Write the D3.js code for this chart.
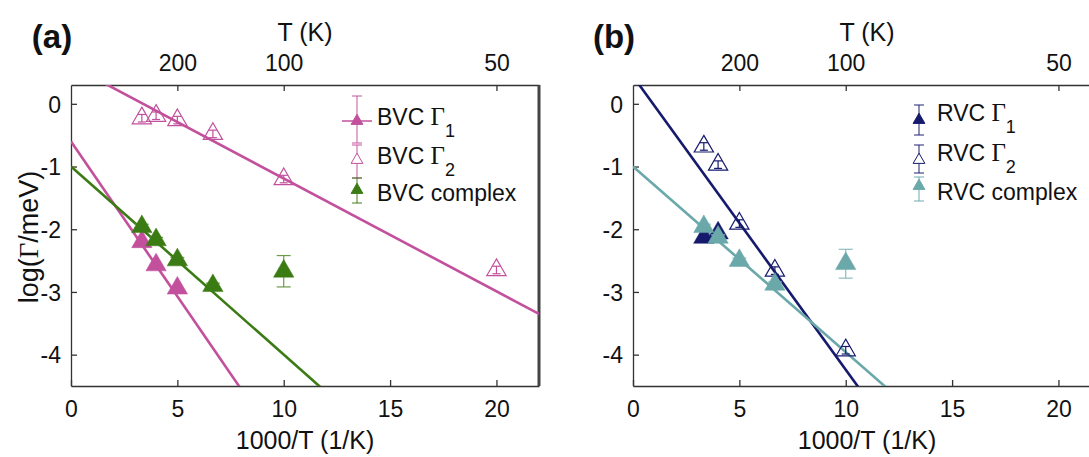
<!DOCTYPE html>
<html>
<head>
<meta charset="utf-8">
<script src="https://cdn.jsdelivr.net/npm/d3@7"></script>
<style>
  body { margin: 0; background: #fff; }
  svg { display: block; font-family: "Liberation Sans", Arial, sans-serif; }
</style>
</head>
<body>
<script>
// axis ticks
var xTicks = [0, 5, 10, 15, 20];
var yTicks = [0, -1, -2, -3, -4];
var tempTicks = [200, 100, 50]; // T (K) on the top axis

// panel (a) BVC data, x = 1000/T
var bvcG1X = [3.33, 4, 5];
var bvcG1Y = [-2.20, -2.57, -2.94];
var bvcG2X = [3.33, 4, 5, 6.67, 10, 20];
var bvcG2Y = [-0.23, -0.19, -0.26, -0.48, -1.20, -2.65];
var bvcCxX = [3.33, 4, 5, 6.67, 10];
var bvcCxY = [-1.96, -2.17, -2.49, -2.90, -2.67];
var bvcCxErr = [0.04, 0.04, 0.04, 0.04, 0.25];

// panel (b) RVC data
var rvcG1X = [3.33, 4];
var rvcG1Y = [-2.13, -2.06];
var rvcG2X = [3.33, 4, 5, 6.67, 10];
var rvcG2Y = [-0.68, -0.97, -1.91, -2.66, -3.93];
var rvcCxX = [3.33, 4, 5, 6.67, 10];
var rvcCxY = [-1.96, -2.13, -2.50, -2.88, -2.55];
var rvcCxErr = [0.04, 0.04, 0.04, 0.04, 0.23];

// Arrhenius fits: [intercept, slope]
var bvcFits = [[-0.60, -0.494], [0.61, -0.18], [-1.0, -0.30]];
var rvcFits = [[0.44, -0.468], [-1.0, -0.296]];

var pink = "#c2509c", green = "#3b7b14", navy = "#151a6c", teal = "#6ba8aa";

var svg = d3.select("body").append("svg")
  .attr("width", 1089)
  .attr("height", 457);

// draw one panel, returns its scales
function drawPanel(left, tag, showYTitle) {
  var x = d3.scaleLinear().domain([0, 22]).range([left, left + 468]);
  var y = d3.scaleLinear().domain([-4.5, 0.3]).range([386, 85]);
  var g = svg.append("g");

  g.append("clipPath").attr("id", "clip" + tag)
    .append("rect")
    .attr("x", x(0)).attr("y", y(0.3))
    .attr("width", x(22) - x(0)).attr("height", y(-4.5) - y(0.3));

  // bottom axis, ticks pointing in
  var bottom = g.append("g").attr("transform", "translate(0," + y(-4.5) + ")")
    .call(d3.axisBottom(x).tickValues(xTicks).tickSizeInner(-6).tickSizeOuter(0).tickPadding(15));
  // top axis with temperature labels
  var top = g.append("g").attr("transform", "translate(0," + y(0.3) + ")")
    .call(d3.axisTop(x).tickValues(tempTicks.map(function(t) { return 1000 / t; }))
      .tickFormat(function(d) { return Math.round(1000 / d); })
      .tickSizeInner(-6).tickSizeOuter(0).tickPadding(14));
  // left axis, plain hyphen minus like the original
  var leftAx = g.append("g").attr("transform", "translate(" + x(0) + ",0)")
    .call(d3.axisLeft(y).tickValues(yTicks).tickFormat(function(d) { return String(d); })
      .tickSizeInner(-6).tickSizeOuter(0).tickPadding(10));

  [bottom, top, leftAx].forEach(function(a) {
    a.selectAll("path.domain").attr("stroke", "#333").attr("stroke-width", 1.3);
    a.selectAll("line").attr("stroke", "#333").attr("stroke-width", 1.3);
    a.selectAll("text").attr("font-size", 23).attr("fill", "#111")
      .attr("font-family", "Liberation Sans, Arial, sans-serif");
  });
  leftAx.selectAll("text").attr("dy", "0.36em");

  // right border
  g.append("line")
    .attr("x1", x(22)).attr("x2", x(22))
    .attr("y1", y(0.3)).attr("y2", y(-4.5))
    .attr("stroke", "#444").attr("stroke-width", 3);

  // axis titles
  g.append("text").attr("x", (x(0) + x(22)) / 2).attr("y", 41)
    .attr("text-anchor", "middle").attr("font-size", 25).attr("fill", "#111")
    .text("T (K)");
  g.append("text").attr("x", (x(0) + x(22)) / 2).attr("y", 449)
    .attr("text-anchor", "middle").attr("font-size", 25).attr("fill", "#111")
    .text("1000/T (1/K)");
  g.append("text").attr("x", left - 19).attr("y", 48)
    .attr("text-anchor", "middle").attr("font-size", 33).attr("font-weight", "bold")
    .attr("fill", "#111")
    .text("(" + tag + ")");

  if (showYTitle) {
    var yt = g.append("text")
      .attr("transform", "translate(" + (left - 33) + "," + 237 + ") rotate(-90)")
      .attr("text-anchor", "middle").attr("font-size", 27).attr("fill", "#111");
    yt.append("tspan").text("log(");
    yt.append("tspan").attr("font-family", "Liberation Serif, serif").text("Γ");
    yt.append("tspan").text("/meV)");
  }

  return { x: x, y: y, g: g, tag: tag };
}

// fit line across the full x range, clipped to the box
function drawFit(p, fit, color) {
  var line = d3.line()
    .x(function(d) { return p.x(d); })
    .y(function(d) { return p.y(fit[0] + fit[1] * d); });
  p.g.append("path")
    .datum([0, 22])
    .attr("d", line)
    .attr("clip-path", "url(#clip" + p.tag + ")")
    .attr("fill", "none")
    .attr("stroke", color)
    .attr("stroke-width", 2.6);
}

// error bars with caps
function drawErr(g, xs, ys, errs, xScale, yScale, color, cap) {
  xs.forEach(function(xv, i) {
    var e = errs[i];
    var cx = xScale(xv);
    var y1 = yScale(ys[i] + e), y2 = yScale(ys[i] - e);
    g.append("line").attr("x1", cx).attr("x2", cx).attr("y1", y1).attr("y2", y2)
      .attr("stroke", color).attr("stroke-width", 1.2);
    [y1, y2].forEach(function(yy) {
      g.append("line").attr("x1", cx - cap).attr("x2", cx + cap).attr("y1", yy).attr("y2", yy)
        .attr("stroke", color).attr("stroke-width", 1.2);
    });
  });
}

// triangle markers
function drawTri(p, xs, ys, color, filled, size) {
  var sym = d3.symbol().type(d3.symbolTriangle).size(size);
  p.g.selectAll(null)
    .data(xs.map(function(d, i) { return [d, ys[i]]; }))
    .enter().append("path")
    .attr("d", sym)
    .attr("transform", function(d) { return "translate(" + p.x(d[0]) + "," + p.y(d[1]) + ")"; })
    .attr("fill", filled ? color : "none")
    .attr("stroke", color)
    .attr("stroke-width", filled ? 0.5 : 1.2);
}

// legend entry with an error bar glyph
function legendItem(g, mx, my, e1, e2, tx, ty, color, filled, label, sub, sample) {
  if (sample) {
    g.append("line").attr("x1", mx - 15).attr("x2", mx + 15).attr("y1", my).attr("y2", my)
      .attr("stroke", color).attr("stroke-width", 1.5);
  }
  g.append("line").attr("x1", mx).attr("x2", mx).attr("y1", e1).attr("y2", e2)
    .attr("stroke", color).attr("stroke-width", 1.2).attr("opacity", 0.8);
  [e1, e2].forEach(function(yy) {
    g.append("line").attr("x1", mx - 5).attr("x2", mx + 5).attr("y1", yy).attr("y2", yy)
      .attr("stroke", color).attr("stroke-width", 1.2).attr("opacity", 0.8);
  });
  g.append("path").attr("d", d3.symbol().type(d3.symbolTriangle).size(60))
    .attr("transform", "translate(" + mx + "," + my + ")")
    .attr("fill", filled ? color : "#fff").attr("stroke", color).attr("stroke-width", 1);
  var t = g.append("text").attr("x", tx).attr("y", ty).attr("font-size", 23).attr("fill", "#111");
  t.append("tspan").text(label);
  if (sub) {
    t.append("tspan").attr("font-family", "Liberation Serif, serif").attr("font-size", 25).text(" Γ");
    t.append("tspan").attr("font-size", 18).attr("dy", 12).text(sub);
  }
}

// panel (a)
var pa = drawPanel(71, "a", true);
bvcFits.forEach(function(f, i) { drawFit(pa, f, i == 2 ? green : pink); });
drawErr(pa.g, bvcG2X, bvcG2Y, bvcG2X.map(function() { return 0.06; }), pa.x, pa.y, pink, 4);
drawTri(pa, bvcG2X, bvcG2Y, pink, false, 160);
drawTri(pa, bvcG1X, bvcG1Y, pink, true, 180);
drawErr(pa.g, bvcCxX, bvcCxY, bvcCxErr, pa.x, pa.y, "#6e9a4c", 7);
drawTri(pa, bvcCxX, bvcCxY, green, true, 180);
legendItem(pa.g, 357, 121, 96, 143, 377, 125, pink, true, "BVC", "1", true);
legendItem(pa.g, 357, 160, 145, 178, 377, 164, pink, false, "BVC", "2", false);
legendItem(pa.g, 357, 190, 178, 203, 377, 201, green, true, "BVC complex", null, false);

// panel (b)
var pb = drawPanel(633, "b", false);
drawFit(pb, rvcFits[0], navy);
drawFit(pb, rvcFits[1], teal);
drawErr(pb.g, rvcG2X, rvcG2Y, rvcG2X.map(function() { return 0.06; }), pb.x, pb.y, navy, 4);
drawTri(pb, rvcG2X, rvcG2Y, navy, false, 160);
drawTri(pb, rvcG1X, rvcG1Y, navy, true, 180);
drawErr(pb.g, rvcCxX, rvcCxY, rvcCxErr, pb.x, pb.y, "#8dbcbe", 7);
drawTri(pb, rvcCxX, rvcCxY, teal, true, 180);
legendItem(pb.g, 919, 120, 105, 135, 937, 121, navy, true, "RVC", "1", false);
legendItem(pb.g, 919, 160, 145, 173, 937, 161, navy, false, "RVC", "2", false);
legendItem(pb.g, 919, 186, 177, 201, 937, 200, teal, true, "RVC complex", null, false);
</script>
</body>
</html>
